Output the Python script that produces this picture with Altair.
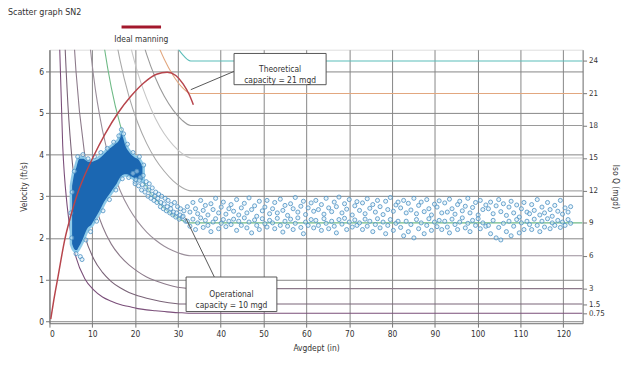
import altair as alt
import pandas as pd

FONT = "'Liberation Sans Narrow', 'DejaVu Sans Condensed', 'Roboto Condensed', sans-serif"

# ---- iso-Q curves (velocity at the depth grid) ----
depth_grid = [2.06, 3.09, 4.13, 5.16, 6.19, 8.25, 10.31, 12.38, 14.44, 16.5, 18.56,
              20.63, 22.69, 24.75, 26.81, 28.88, 30.94, 33.0, 124.5]
iso_q_labels = ["24", "21", "18", "15", "12", "9", "6", "3", "1.5", "0.75"]
iso_q_full_v = [6.25, 5.47, 4.70, 3.92, 3.13, 2.36, 1.57, 0.78, 0.41, 0.19]
iso_colors = ["#5bbdb9", "#e2a77f", "#9a9a9a", "#c6c6c6", "#a9a9a9", "#6fba86",
              "#9a8e9a", "#8c7a8a", "#7a6478", "#7b4f7a"]
iso_v_24 = [239, 132, 86.6, 62.6, 48.1, 32.0, 23.4, 18.3, 14.9, 12.5, 10.8, 9.51, 8.53, 7.77, 7.18, 6.74, 6.42, 6.25, 6.25]
iso_v_21 = [209, 115, 75.8, 54.8, 42.1, 28.0, 20.5, 16.0, 13.0, 10.9, 9.44, 8.32, 7.46, 6.80, 6.29, 5.90, 5.62, 5.47, 5.47]
iso_v_18 = [180, 99.2, 65.1, 47.1, 36.2, 24.0, 17.6, 13.7, 11.2, 9.40, 8.11, 7.15, 6.41, 5.84, 5.40, 5.07, 4.83, 4.70, 4.70]
iso_v_15 = [150, 82.7, 54.3, 39.3, 30.2, 20.1, 14.7, 11.4, 9.32, 7.84, 6.77, 5.96, 5.35, 4.87, 4.50, 4.23, 4.03, 3.92, 3.92]
iso_v_12 = [120, 66.0, 43.4, 31.4, 24.1, 16.0, 11.7, 9.14, 7.44, 6.26, 5.40, 4.76, 4.27, 3.89, 3.60, 3.37, 3.21, 3.13, 3.13]
iso_v_9 = [90.4, 49.8, 32.7, 23.6, 18.2, 12.1, 8.84, 6.89, 5.61, 4.72, 4.07, 3.59, 3.22, 2.93, 2.71, 2.54, 2.42, 2.36, 2.36]
iso_v_6 = [60.1, 33.1, 21.8, 15.7, 12.1, 8.03, 5.88, 4.58, 3.73, 3.14, 2.71, 2.39, 2.14, 1.95, 1.80, 1.69, 1.61, 1.57, 1.57]
iso_v_3 = [29.9, 16.5, 10.8, 7.82, 6.01, 3.99, 2.92, 2.28, 1.85, 1.56, 1.35, 1.19, 1.06, 0.97, 0.90, 0.84, 0.80, 0.78, 0.78]
iso_v_1_5 = [15.3, 8.44, 5.54, 4.01, 3.08, 2.05, 1.50, 1.17, 0.95, 0.80, 0.69, 0.61, 0.55, 0.50, 0.46, 0.43, 0.41, 0.41, 0.41]
iso_v_0_75 = [7.66, 4.22, 2.77, 2.00, 1.54, 1.02, 0.75, 0.58, 0.48, 0.40, 0.35, 0.30, 0.27, 0.25, 0.23, 0.21, 0.20, 0.19, 0.19]
iso_series = [iso_v_24, iso_v_21, iso_v_18, iso_v_15, iso_v_12, iso_v_9, iso_v_6, iso_v_3, iso_v_1_5, iso_v_0_75]

# ---- ideal manning curve ----
manning_x = [0.3, 1, 2, 3.6, 4.9, 6.5, 8, 10, 13, 16, 19, 22, 25, 27.5, 29.5, 31.2, 32.6, 33.6]
manning_y = [0.05, 0.5, 1.07, 1.97, 2.5, 3.05, 3.45, 3.9, 4.5, 5.0, 5.4, 5.72, 5.93, 5.98, 5.9, 5.7, 5.45, 5.2]

# ---- dense cloud of observations (outline of the solid region) ----
blob_x = [5.0, 5.5, 6.0, 6.5, 7.0, 8.0, 9.0, 10.0, 11.0, 12.0, 13.0, 14.0, 15.0, 16.0, 16.8, 17.5, 18.0, 19.0, 20.0, 21.0, 22.0]
blob_lo = [1.85, 1.72, 1.68, 1.68, 1.75, 1.95, 2.2, 2.3, 2.47, 2.65, 2.85, 3.0, 3.15, 3.3, 3.45, 3.5, 3.5, 3.45, 3.4, 3.38, 3.35]
blob_hi = [3.25, 3.55, 3.7, 3.88, 3.93, 3.93, 3.86, 3.86, 3.9, 3.98, 4.08, 4.18, 4.26, 4.36, 4.55, 4.4, 4.22, 4.06, 3.96, 3.9, 3.72]

edge_x = [5.2, 5.0, 5.3, 5.8, 6.6, 7.8, 9.0, 10.5, 12.0, 13.5, 15.0, 16.2, 16.8, 17.3, 18.2, 19.5, 21.0, 22.0,
          6.2, 7.2, 7.6, 8.5, 9.6, 11.0, 12.5, 14.0, 15.5, 17.0, 18.5, 20.0]
edge_y = [2.0, 2.6, 3.1, 3.6, 3.95, 4.0, 3.9, 3.95, 4.05, 4.15, 4.3, 4.45, 4.6, 4.5, 4.25, 4.05, 3.95, 3.75,
          1.62, 1.55, 1.48, 1.95, 2.15, 2.4, 2.65, 2.92, 3.15, 3.42, 3.45, 3.35]

# ---- descending tail ----
tail1_x = [19.5, 20, 20.4, 20.8, 21.2, 21.5, 21.9, 22.3, 22.6, 23, 23.3, 23.7, 24, 24.4, 24.8, 25.1, 25.5,
           25.9, 26.2, 26.6, 27, 27.3, 27.7, 28.1, 28.4, 28.8, 29.2, 29.5, 29.9, 30.3, 30.6, 31, 31.4, 31.8,
           20.2, 21, 21.7, 22.5, 23.2, 23.9, 24.6, 25.3, 26, 26.8, 27.5, 28.3, 29, 29.7, 30.5, 31.2]
tail1_y = [3.55, 3.3, 3.6, 3.25, 3.45, 3.15, 3.5, 3.1, 3.35, 3.0, 3.3, 2.95, 3.2, 2.9, 3.1, 2.85, 3.05,
           2.75, 3.0, 2.7, 2.95, 2.65, 2.9, 2.6, 2.8, 2.55, 2.85, 2.5, 2.75, 2.45, 2.7, 2.5, 2.65, 2.4,
           3.4, 3.38, 3.28, 3.22, 3.15, 3.05, 3.0, 2.95, 2.85, 2.82, 2.75, 2.7, 2.62, 2.6, 2.55, 2.52]

# ---- flat tail ----
tail_x = [32.2, 32.8, 33.5, 34.1, 34.6, 35.3, 35.9, 36.4, 37.0, 37.7, 38.2, 38.8, 39.5, 40.1, 40.6, 41.2, 41.9,
          42.4, 43.0, 43.7, 44.2, 44.8, 45.5, 46.1, 46.6, 47.2, 47.9, 48.4, 49.0, 49.7, 50.3, 50.8, 51.4,
          52.1, 52.6, 53.2, 53.9, 54.5, 55.0, 55.6, 56.3, 56.9, 57.4, 58.0, 58.7, 59.3, 59.8, 60.4, 61.1, 61.7,
          62.2, 62.8, 63.5, 64.1, 64.6, 65.2, 65.9, 66.5, 67.0, 67.6, 68.3, 68.9, 69.4, 70.0, 70.7, 71.3, 71.8,
          72.4, 73.1, 73.7, 74.2, 74.8, 75.5, 76.1, 76.6, 77.2, 77.9, 78.5, 79.0, 79.6, 80.3, 80.9, 81.4,
          82.0, 82.7, 83.3, 83.8, 84.4, 85.1, 85.7, 86.2, 86.8, 87.5, 88.1, 88.6, 89.2, 89.9, 90.5, 91.0, 91.6,
          92.3, 92.9, 93.4, 94.0, 94.7, 95.3, 95.8, 96.4, 97.1, 97.7, 98.2, 98.8, 99.5, 100.1, 100.6, 101.2, 101.9,
          102.5, 103.0, 103.6, 104.3, 104.9, 105.4, 106.0, 106.7, 107.3, 107.8, 108.4, 109.1, 109.7, 110.2, 110.8, 111.5,
          112.1, 112.6, 113.2, 113.9, 114.5, 115.0, 115.6, 116.3, 116.9, 117.4, 118.0, 118.7, 119.3, 119.8, 120.4, 121.1, 121.7]
tail_hi = [2.75, 2.62, 2.85, 2.7, 2.58, 2.9, 2.66, 2.78, 2.55, 2.82, 2.68, 2.95, 2.6, 2.74, 2.86, 2.57, 2.7,
           2.8, 2.64, 2.92, 2.55, 2.72, 2.83, 2.6, 2.96, 2.68, 2.77, 2.52, 2.88, 2.65, 2.74, 2.9, 2.58,
           2.7, 2.85, 2.6, 2.93, 2.66, 2.78, 2.54, 2.82, 2.7, 2.97, 2.62, 2.76, 2.88, 2.56, 2.72, 2.84, 2.64,
           2.9, 2.68, 2.8, 2.57, 2.95, 2.72, 2.63, 2.86, 2.75, 2.98, 2.6, 2.82, 2.69, 2.92, 2.55, 2.77, 2.87,
           2.66, 2.84, 2.58, 2.94, 2.71, 2.8, 2.62, 2.9, 2.75, 2.56, 2.88, 2.68, 2.97, 2.64, 2.79, 2.86,
           2.72, 2.9, 2.6, 2.83, 2.67, 2.95, 2.58, 2.78, 2.86, 2.63, 2.92, 2.7, 2.55, 2.81, 2.74, 2.89, 2.6,
           2.84, 2.62, 2.93, 2.7, 2.57, 2.8, 2.88, 2.65, 2.76, 2.95, 2.6, 2.73, 2.85, 2.55, 2.9, 2.68, 2.79,
           2.7, 2.86, 2.58, 2.77, 2.92, 2.63, 2.82, 2.54, 2.74, 2.88, 2.6, 2.79, 2.5, 2.7, 2.85, 2.62,
           2.58, 2.8, 2.66, 2.92, 2.55, 2.74, 2.6, 2.85, 2.68, 2.52, 2.78, 2.64, 2.9, 2.57, 2.72, 2.62, 2.75]
tail_lo = [2.4, 2.28, 2.45, 2.2, 2.36, 2.48, 2.25, 2.42, 2.3, 2.15, 2.38, 2.46, 2.22, 2.35, 2.44, 2.27, 2.4,
           2.32, 2.45, 2.18, 2.4, 2.3, 2.48, 2.24, 2.38, 2.12, 2.43, 2.3, 2.2, 2.46, 2.34, 2.26, 2.42,
           2.36, 2.22, 2.47, 2.3, 2.14, 2.4, 2.28, 2.45, 2.2, 2.35, 2.48, 2.25, 2.1, 2.38, 2.3, 2.44, 2.24,
           2.42, 2.3, 2.18, 2.46, 2.35, 2.22, 2.4, 2.28, 2.12, 2.44, 2.33, 2.47, 2.2, 2.38, 2.26, 2.43, 2.3,
           2.36, 2.2, 2.45, 2.28, 2.4, 2.15, 2.32, 2.46, 2.24, 2.38, 2.1, 2.3, 2.44, 2.18, 2.35, 2.4,
           2.25, 2.05, 2.4, 2.15, 2.32, 2.0, 2.44, 2.22, 2.36, 2.1, 2.3, 2.46, 2.18, 2.38, 2.27, 2.42, 2.2,
           2.4, 2.26, 2.12, 2.45, 2.32, 2.2, 2.38, 2.48, 2.24, 2.35, 2.15, 2.42, 2.3, 2.46, 2.22, 2.36, 2.28,
           2.3, 2.1, 2.42, 2.0, 2.25, 1.95, 2.35, 2.15, 2.4, 2.05, 2.28, 2.44, 2.12, 2.36, 2.2, 2.4,
           2.32, 2.2, 2.45, 2.3, 2.15, 2.4, 2.26, 2.46, 2.22, 2.36, 2.3, 2.42, 2.25, 2.38, 2.3, 2.44, 2.35]

# ---------------- build tables ----------------
iso_rows = []
for q, vs in zip(iso_q_labels, iso_series):
    for i, (d, v) in enumerate(zip(depth_grid, vs)):
        iso_rows.append({"x": d, "y": v, "q": q, "o": i})
iso_df = pd.DataFrame(iso_rows)
manning_df = pd.DataFrame({"x": manning_x, "y": manning_y, "o": list(range(len(manning_x)))})
blob_df = pd.DataFrame({"x": blob_x, "y": blob_lo, "hi": blob_hi})
pts_df = pd.DataFrame({
    "x": edge_x + tail1_x + tail_x + tail_x,
    "y": edge_y + tail1_y + tail_hi + tail_lo,
})

xs = alt.Scale(domain=[0, 124.5], nice=False, zero=False)
ys = alt.Scale(domain=[-0.05, 6.52], nice=False, zero=False)

common = dict(labelFont=FONT, titleFont=FONT, labelFontSize=8.5, titleFontSize=8.5,
              titleFontWeight="normal", labelColor="#333", titleColor="#333",
              tickColor="#777", domainColor="#777", tickSize=4, labelPadding=2,
              gridColor="#858585", gridWidth=1)
xaxis = alt.Axis(values=list(range(0, 121, 10)), title="Avgdept (in)", grid=True,
                 titlePadding=6, **common)
yaxis = alt.Axis(values=[0, 1, 2, 3, 4, 5, 6], title="Velocity (ft/s)", grid=True,
                 titlePadding=10, **common)

X = lambda f="x": alt.X(f"{f}:Q", scale=xs, axis=xaxis)
Y = lambda f="y": alt.Y(f"{f}:Q", scale=ys, axis=yaxis)

iso = alt.Chart(iso_df).mark_line(strokeWidth=1.1, clip=True, interpolate="monotone").encode(
    x=X(), y=Y(), order="o:Q",
    color=alt.Color("q:N", scale=alt.Scale(domain=iso_q_labels, range=iso_colors), legend=None),
)
blob = alt.Chart(blob_df).mark_area(color="#1b67b2", stroke="#8fcbe9", strokeWidth=2.5,
                                    interpolate="monotone").encode(
    x=X(), y=Y(), y2=alt.Y2("hi:Q"))
pts = alt.Chart(pts_df).mark_point(shape="circle", size=17, filled=False, stroke="#4a8fc2",
                                   strokeWidth=1, fill="#d4ebf7", fillOpacity=0.5,
                                   strokeOpacity=0.8).encode(x=X(), y=Y())
manning = alt.Chart(manning_df).mark_line(color="#b7454c", strokeWidth=1.5, clip=True,
                                          interpolate="monotone").encode(x=X(), y=Y(), order="o:Q")

box_df = pd.DataFrame({"x": [43.1, 31.9], "x2": [64.6, 53.1], "y": [6.43, 1.06], "y2": [5.68, 0.23]})
boxes = alt.Chart(box_df).mark_rect(fill="white", stroke="#555", strokeWidth=1).encode(
    x=X(), x2="x2:Q", y=Y(), y2="y2:Q")
call_df = pd.DataFrame({"x": [43.1, 38.5], "y": [6.0, 1.06], "x2": [33.0, 31.8], "y2": [5.56, 2.48]})
calls = alt.Chart(call_df).mark_rule(color="#555", strokeWidth=1).encode(
    x=X(), y=Y(), x2="x2:Q", y2="y2:Q")
lab_df = pd.DataFrame({"x": [53.85, 42.5], "y": [6.05, 0.65],
                       "t": [["Theoretical", "capacity = 21 mgd"], ["Operational", "capacity = 10 mgd"]]})
labels = alt.Chart(lab_df).mark_text(font=FONT, fontSize=8.5, color="#333", lineHeight=11,
                                     baseline="middle").encode(x=X(), y=Y(), text="t")

legend_rule = alt.Chart(pd.DataFrame({"a": [0]})).mark_rule(color="#a3182c", strokeWidth=3).encode(
    x=alt.value(73), x2=alt.value(113), y=alt.value(-23))
legend_text = alt.Chart(pd.DataFrame({"t": ["Ideal manning"]})).mark_text(
    font=FONT, fontSize=8.5, color="#333").encode(x=alt.value(93), y=alt.value(-11), text="t:N")
title_text = alt.Chart(pd.DataFrame({"t": ["Scatter graph SN2"]})).mark_text(
    font=FONT, fontSize=9, color="#333", align="left").encode(
    x=alt.value(-42), y=alt.value(-38), text="t:N")

inner = alt.layer(iso, blob, pts, manning, calls, boxes, labels, legend_rule, legend_text, title_text)

label_expr = " : ".join(f"datum.value == {v} ? '{q}'" for v, q in zip(iso_q_full_v, iso_q_labels)) + " : ''"
rcommon = {k: v for k, v in common.items() if k not in ("gridColor", "gridWidth", "labelFontSize")}
raxis = alt.Axis(orient="right", values=iso_q_full_v, labelExpr=label_expr, title="Iso Q (mgd)",
                 grid=False, labelOverlap=False, titlePadding=6, labelFontSize=8, **rcommon)
right = alt.Chart(pd.DataFrame({"v": iso_q_full_v})).mark_point(opacity=0).encode(
    y=alt.Y("v:Q", scale=ys, axis=raxis))

chart = alt.layer(inner, right).resolve_scale(y="independent").properties(
    width=540, height=277, autosize="none",
    padding={"left": 42, "top": 40, "right": 50, "bottom": 35},
).configure_view(stroke="#777", strokeWidth=1).configure(background="white")

chart.save("out.html", embed_options={"renderer": "svg", "actions": False})
